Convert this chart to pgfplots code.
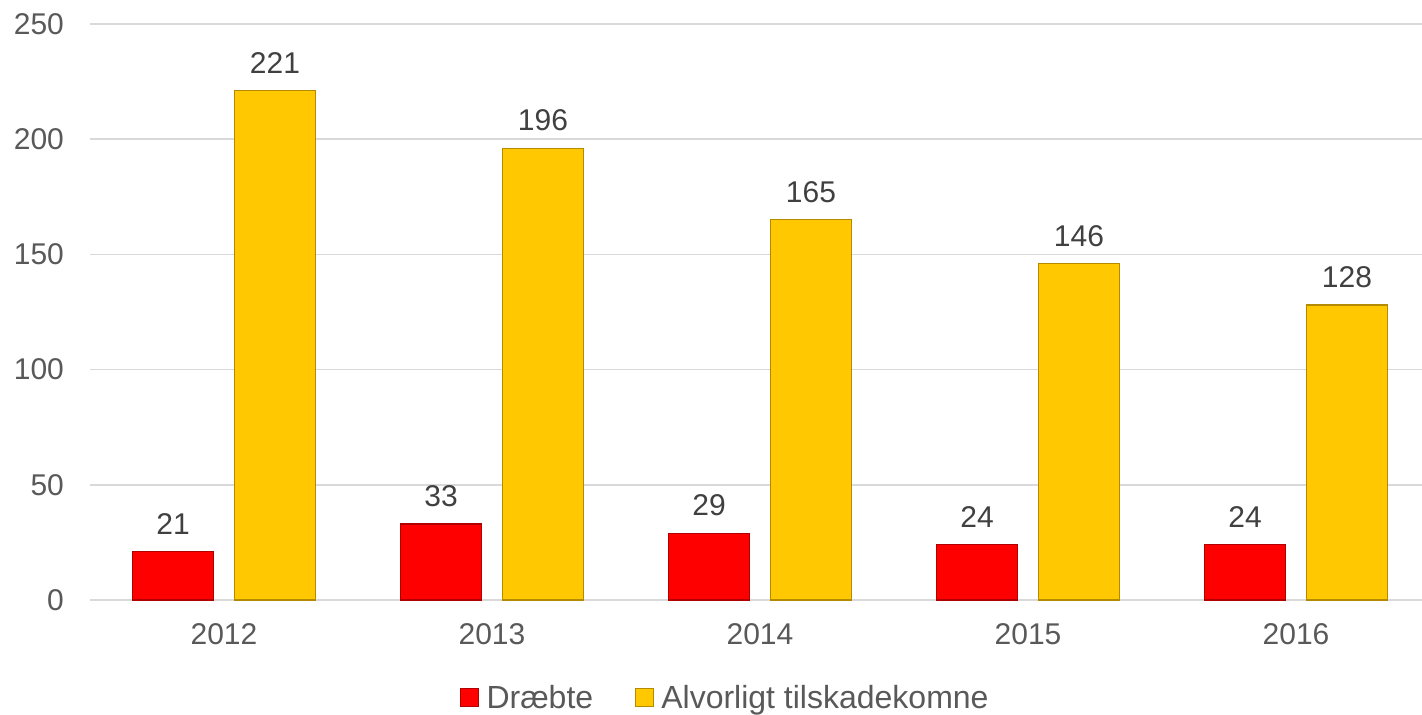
\documentclass[border=0pt]{standalone}
\usepackage{fontspec}
\setmainfont{Liberation Sans}
\usepackage{pgfplots}
\pgfplotsset{compat=1.18}
\definecolor{gridc}{HTML}{D9D9D9}
\definecolor{tickc}{HTML}{595959}
\definecolor{valc}{HTML}{404040}
\definecolor{redf}{HTML}{FF0000}
\definecolor{redd}{HTML}{B00000}
\definecolor{yelf}{HTML}{FFC800}
\definecolor{yeld}{HTML}{B38A00}
\pgfplotstableread{
x d a
0 21 221
1 33 196
2 29 165
3 24 146
4 24 128
}\datatable
\begin{document}
\begin{tikzpicture}
\begin{axis}[
  name=ax,
  scale only axis,
  width=670pt, height=288pt,
  xmin=-0.5, xmax=4.5,
  ymin=0, ymax=250,
  ytick={0,50,...,250},
  xtick={0,1,2,3,4},
  xticklabels={2012,2013,2014,2015,2016},
  axis x line*=bottom,
  axis y line*=left,
  x axis line style={draw=gridc, line width=0.8pt, -},
  y axis line style={draw=none},
  ymajorgrids,
  grid style={draw=gridc, line width=0.8pt},
  major tick length=0pt,
  tick label style={font=\fontsize{15}{18}\selectfont, text=tickc},
  /pgf/number format/assume math mode=true,
  yticklabel style={xshift=-9.5pt},
  xticklabel style={yshift=-8pt},
  ybar,
  bar width=0.302,
  clip=false,
  nodes near coords,
  every node near coord/.append style={font=\fontsize{15}{18}\selectfont, text=valc, yshift=5pt},
  legend style={at={(0.475,-0.170)}, anchor=center, draw=none, legend columns=2,
    font=\fontsize{16}{19}\selectfont, text=tickc,
    /tikz/every even column/.append style={column sep=19pt}},
  legend image code/.code={\draw[#1, line width=0.5pt] (0pt,-4.5pt) rectangle (9pt,4.5pt); \path (10.5pt,0pt);},
]
\addplot[fill=redf, draw=redd, line width=0.6pt, bar shift=-0.19] table[x=x, y=d] {\datatable};
\addlegendentry{Dræbte}
\addplot[fill=yelf, draw=yeld, line width=0.6pt, bar shift=0.19] table[x=x, y=a] {\datatable};
\addlegendentry{Alvorligt tilskadekomne}
\end{axis}
\pgfresetboundingbox
\path[use as bounding box] ([shift={(-45pt,-57pt)}]ax.south west) rectangle ([shift={(666pt,300pt)}]ax.south west);
\end{tikzpicture}
\end{document}
